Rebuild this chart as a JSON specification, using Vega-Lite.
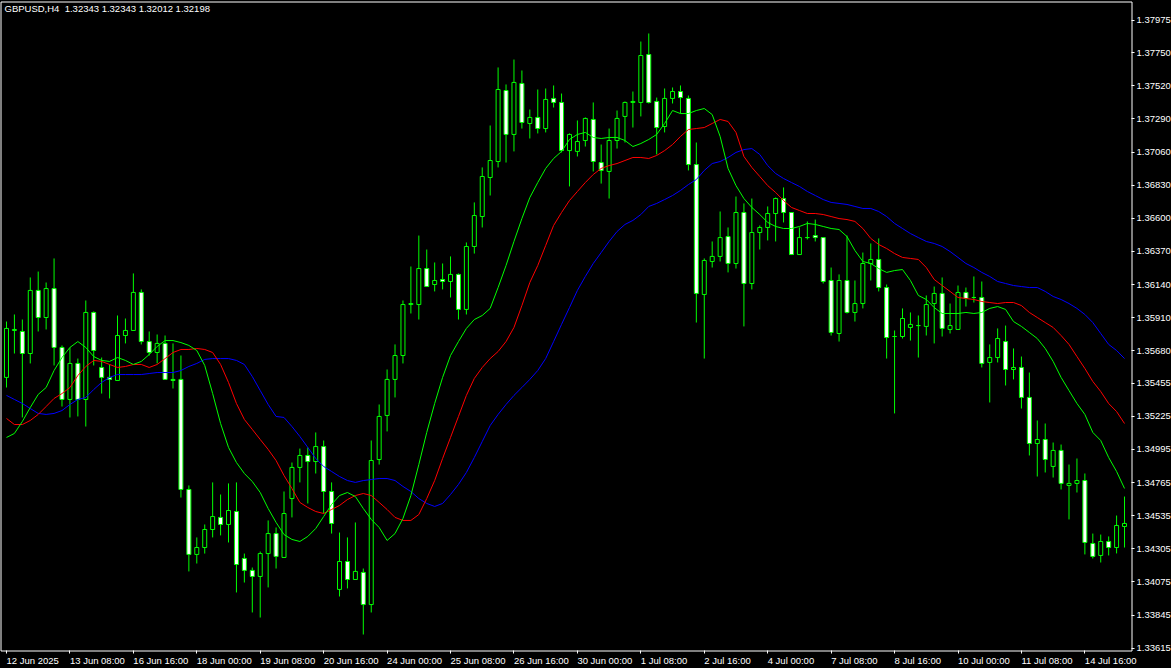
{
  "$schema": "https://vega.github.io/schema/vega-lite/v6.json",
  "width": 1131,
  "height": 649,
  "autosize": {"type": "none"},
  "padding": {"left": 0.5, "top": 1.5, "right": 39.5, "bottom": 17.5},
  "background": "#000000",
  "title": {
    "text": "GBPUSD,H4\u00a0 1.32343 1.32343 1.32012 1.32198",
    "anchor": "start",
    "frame": "group",
    "orient": "top",
    "offset": 0,
    "dx": 4,
    "dy": 20,
    "baseline": "alphabetic",
    "font": "Liberation Sans",
    "fontSize": 9.5,
    "fontWeight": "normal",
    "color": "#ffffff"
  },
  "config": {
    "view": {"stroke": "#ffffff", "strokeWidth": 1, "fill": "#000000"},
    "axis": {"translate": 0, "labelOverlap": false, "labelFlush": false, "labelBound": false, "grid": false, "domain": false, "title": null}
  },
  "data": {
    "values": [
      {"i":0,"o":1.35495,"h":1.35883,"l":1.35425,"c":1.35835,"g":1.35078,"r":1.35210,"b":1.35370},
      {"i":1,"o":1.35821,"h":1.35932,"l":1.35661,"c":1.35828,"g":1.35106,"r":1.35168,"b":1.35342},
      {"i":2,"o":1.35814,"h":1.35897,"l":1.35217,"c":1.35661,"g":1.35189,"r":1.35168,"b":1.35314},
      {"i":3,"o":1.35661,"h":1.36189,"l":1.35592,"c":1.36099,"g":1.35286,"r":1.35196,"b":1.35279},
      {"i":4,"o":1.36099,"h":1.36230,"l":1.35814,"c":1.35911,"g":1.35377,"r":1.35238,"b":1.35245},
      {"i":5,"o":1.35911,"h":1.36154,"l":1.35828,"c":1.36112,"g":1.35425,"r":1.35293,"b":1.35238},
      {"i":6,"o":1.36112,"h":1.36321,"l":1.35578,"c":1.35703,"g":1.35543,"r":1.35349,"b":1.35245},
      {"i":7,"o":1.35703,"h":1.35717,"l":1.35293,"c":1.35342,"g":1.35633,"r":1.35383,"b":1.35265},
      {"i":8,"o":1.35342,"h":1.35703,"l":1.35217,"c":1.35592,"g":1.35703,"r":1.35425,"b":1.35307},
      {"i":9,"o":1.35592,"h":1.35626,"l":1.35224,"c":1.35342,"g":1.35744,"r":1.35508,"b":1.35342},
      {"i":10,"o":1.35342,"h":1.36029,"l":1.35154,"c":1.35946,"g":1.35703,"r":1.35571,"b":1.35356},
      {"i":11,"o":1.35946,"h":1.35953,"l":1.35578,"c":1.35682,"g":1.35640,"r":1.35613,"b":1.35411},
      {"i":12,"o":1.35564,"h":1.35633,"l":1.35383,"c":1.35495,"g":1.35613,"r":1.35606,"b":1.35460},
      {"i":13,"o":1.35495,"h":1.35585,"l":1.35349,"c":1.35481,"g":1.35606,"r":1.35585,"b":1.35495},
      {"i":14,"o":1.35474,"h":1.35925,"l":1.35474,"c":1.35786,"g":1.35633,"r":1.35564,"b":1.35515},
      {"i":15,"o":1.35786,"h":1.35904,"l":1.35731,"c":1.35821,"g":1.35613,"r":1.35571,"b":1.35515},
      {"i":16,"o":1.35821,"h":1.36217,"l":1.35821,"c":1.36085,"g":1.35585,"r":1.35585,"b":1.35515},
      {"i":17,"o":1.36085,"h":1.36106,"l":1.35724,"c":1.35744,"g":1.35606,"r":1.35585,"b":1.35515},
      {"i":18,"o":1.35744,"h":1.35814,"l":1.35647,"c":1.35668,"g":1.35654,"r":1.35564,"b":1.35522},
      {"i":19,"o":1.35668,"h":1.35793,"l":1.35592,"c":1.35731,"g":1.35710,"r":1.35585,"b":1.35529},
      {"i":20,"o":1.35731,"h":1.35786,"l":1.35481,"c":1.35481,"g":1.35751,"r":1.35626,"b":1.35529},
      {"i":21,"o":1.35481,"h":1.35731,"l":1.35418,"c":1.35474,"g":1.35751,"r":1.35668,"b":1.35529},
      {"i":22,"o":1.35481,"h":1.35647,"l":1.34661,"c":1.34717,"g":1.35737,"r":1.35689,"b":1.35543},
      {"i":23,"o":1.34717,"h":1.34745,"l":1.34148,"c":1.34266,"g":1.35717,"r":1.35689,"b":1.35571},
      {"i":24,"o":1.34266,"h":1.34384,"l":1.34203,"c":1.34314,"g":1.35682,"r":1.35696,"b":1.35592},
      {"i":25,"o":1.34314,"h":1.34474,"l":1.34272,"c":1.34439,"g":1.35578,"r":1.35689,"b":1.35620},
      {"i":26,"o":1.34439,"h":1.34766,"l":1.34384,"c":1.34529,"g":1.35383,"r":1.35668,"b":1.35626},
      {"i":27,"o":1.34523,"h":1.34682,"l":1.34398,"c":1.34474,"g":1.35175,"r":1.35585,"b":1.35626},
      {"i":28,"o":1.34474,"h":1.34759,"l":1.34349,"c":1.34571,"g":1.35009,"r":1.35460,"b":1.35626},
      {"i":29,"o":1.34564,"h":1.34766,"l":1.34002,"c":1.34196,"g":1.34904,"r":1.35314,"b":1.35613},
      {"i":30,"o":1.34238,"h":1.34272,"l":1.34071,"c":1.34155,"g":1.34828,"r":1.35203,"b":1.35585},
      {"i":31,"o":1.34155,"h":1.34175,"l":1.33863,"c":1.34113,"g":1.34772,"r":1.35134,"b":1.35501},
      {"i":32,"o":1.34113,"h":1.34286,"l":1.33828,"c":1.34272,"g":1.34696,"r":1.35064,"b":1.35404},
      {"i":33,"o":1.34272,"h":1.34502,"l":1.34037,"c":1.34411,"g":1.34585,"r":1.34995,"b":1.35307},
      {"i":34,"o":1.34411,"h":1.34453,"l":1.34168,"c":1.34252,"g":1.34488,"r":1.34918,"b":1.35224},
      {"i":35,"o":1.34245,"h":1.34703,"l":1.34245,"c":1.34550,"g":1.34404,"r":1.34814,"b":1.35217},
      {"i":36,"o":1.34654,"h":1.34904,"l":1.34523,"c":1.34870,"g":1.34370,"r":1.34724,"b":1.35154},
      {"i":37,"o":1.34870,"h":1.35001,"l":1.34766,"c":1.34953,"g":1.34356,"r":1.34627,"b":1.35085},
      {"i":38,"o":1.34953,"h":1.35009,"l":1.34620,"c":1.34911,"g":1.34391,"r":1.34592,"b":1.35009},
      {"i":39,"o":1.34911,"h":1.35113,"l":1.34828,"c":1.35015,"g":1.34446,"r":1.34564,"b":1.34932},
      {"i":40,"o":1.35015,"h":1.35057,"l":1.34550,"c":1.34703,"g":1.34529,"r":1.34550,"b":1.34877},
      {"i":41,"o":1.34703,"h":1.34766,"l":1.34411,"c":1.34481,"g":1.34613,"r":1.34578,"b":1.34842},
      {"i":42,"o":1.34023,"h":1.34418,"l":1.33974,"c":1.34217,"g":1.34675,"r":1.34606,"b":1.34807},
      {"i":43,"o":1.34217,"h":1.34384,"l":1.34030,"c":1.34092,"g":1.34696,"r":1.34647,"b":1.34779},
      {"i":44,"o":1.34092,"h":1.34488,"l":1.34092,"c":1.34148,"g":1.34668,"r":1.34675,"b":1.34766},
      {"i":45,"o":1.34141,"h":1.34168,"l":1.33710,"c":1.33918,"g":1.34585,"r":1.34689,"b":1.34779},
      {"i":46,"o":1.33918,"h":1.35057,"l":1.33863,"c":1.34918,"g":1.34509,"r":1.34675,"b":1.34786},
      {"i":47,"o":1.34925,"h":1.35307,"l":1.34890,"c":1.35224,"g":1.34453,"r":1.34627,"b":1.34793},
      {"i":48,"o":1.35231,"h":1.35550,"l":1.35120,"c":1.35481,"g":1.34363,"r":1.34578,"b":1.34793},
      {"i":49,"o":1.35481,"h":1.35724,"l":1.35356,"c":1.35647,"g":1.34411,"r":1.34523,"b":1.34779},
      {"i":50,"o":1.35647,"h":1.36029,"l":1.35592,"c":1.36001,"g":1.34516,"r":1.34502,"b":1.34738},
      {"i":51,"o":1.36001,"h":1.36265,"l":1.35939,"c":1.36008,"g":1.34675,"r":1.34502,"b":1.34703},
      {"i":52,"o":1.36001,"h":1.36480,"l":1.35897,"c":1.36251,"g":1.34890,"r":1.34543,"b":1.34654},
      {"i":53,"o":1.36251,"h":1.36383,"l":1.36126,"c":1.36126,"g":1.35113,"r":1.34654,"b":1.34620},
      {"i":54,"o":1.36140,"h":1.36293,"l":1.36092,"c":1.36168,"g":1.35314,"r":1.34779,"b":1.34599},
      {"i":55,"o":1.36175,"h":1.36286,"l":1.36106,"c":1.36161,"g":1.35495,"r":1.34932,"b":1.34620},
      {"i":56,"o":1.36161,"h":1.36335,"l":1.36050,"c":1.36210,"g":1.35647,"r":1.35078,"b":1.34682},
      {"i":57,"o":1.36210,"h":1.36217,"l":1.35897,"c":1.35967,"g":1.35744,"r":1.35224,"b":1.34752},
      {"i":58,"o":1.35967,"h":1.36432,"l":1.35932,"c":1.36404,"g":1.35835,"r":1.35370,"b":1.34835},
      {"i":59,"o":1.36404,"h":1.36710,"l":1.36355,"c":1.36619,"g":1.35897,"r":1.35488,"b":1.34939},
      {"i":60,"o":1.36612,"h":1.36953,"l":1.36536,"c":1.36890,"g":1.35925,"r":1.35564,"b":1.35050},
      {"i":61,"o":1.36883,"h":1.37244,"l":1.36758,"c":1.37001,"g":1.35974,"r":1.35626,"b":1.35161},
      {"i":62,"o":1.36994,"h":1.37647,"l":1.36953,"c":1.37494,"g":1.36119,"r":1.35675,"b":1.35238},
      {"i":63,"o":1.37487,"h":1.37529,"l":1.36987,"c":1.37182,"g":1.36272,"r":1.35744,"b":1.35307},
      {"i":64,"o":1.37182,"h":1.37702,"l":1.37064,"c":1.37543,"g":1.36439,"r":1.35842,"b":1.35370},
      {"i":65,"o":1.37536,"h":1.37626,"l":1.37223,"c":1.37265,"g":1.36598,"r":1.35994,"b":1.35425},
      {"i":66,"o":1.37258,"h":1.37355,"l":1.37154,"c":1.37300,"g":1.36744,"r":1.36154,"b":1.35481},
      {"i":67,"o":1.37300,"h":1.37494,"l":1.37189,"c":1.37223,"g":1.36848,"r":1.36272,"b":1.35543},
      {"i":68,"o":1.37223,"h":1.37501,"l":1.37196,"c":1.37425,"g":1.36946,"r":1.36411,"b":1.35626},
      {"i":69,"o":1.37432,"h":1.37522,"l":1.37369,"c":1.37404,"g":1.37015,"r":1.36550,"b":1.35744},
      {"i":70,"o":1.37404,"h":1.37466,"l":1.37057,"c":1.37070,"g":1.37064,"r":1.36640,"b":1.35863},
      {"i":71,"o":1.37070,"h":1.37189,"l":1.36821,"c":1.37182,"g":1.37147,"r":1.36723,"b":1.35980},
      {"i":72,"o":1.37064,"h":1.37279,"l":1.37029,"c":1.37133,"g":1.37182,"r":1.36786,"b":1.36099},
      {"i":73,"o":1.37140,"h":1.37300,"l":1.37098,"c":1.37293,"g":1.37196,"r":1.36848,"b":1.36196},
      {"i":74,"o":1.37286,"h":1.37404,"l":1.36925,"c":1.36994,"g":1.37161,"r":1.36904,"b":1.36286},
      {"i":75,"o":1.36987,"h":1.37112,"l":1.36841,"c":1.36932,"g":1.37154,"r":1.36946,"b":1.36362},
      {"i":76,"o":1.36925,"h":1.37223,"l":1.36737,"c":1.37140,"g":1.37161,"r":1.36966,"b":1.36439},
      {"i":77,"o":1.37140,"h":1.37348,"l":1.37084,"c":1.37293,"g":1.37161,"r":1.36980,"b":1.36508},
      {"i":78,"o":1.37307,"h":1.37411,"l":1.37126,"c":1.37404,"g":1.37140,"r":1.37001,"b":1.36557},
      {"i":79,"o":1.37404,"h":1.37480,"l":1.37230,"c":1.37411,"g":1.37098,"r":1.37022,"b":1.36585},
      {"i":80,"o":1.37404,"h":1.37827,"l":1.37307,"c":1.37730,"g":1.37119,"r":1.37022,"b":1.36626},
      {"i":81,"o":1.37737,"h":1.37883,"l":1.37397,"c":1.37404,"g":1.37147,"r":1.37015,"b":1.36682},
      {"i":82,"o":1.37411,"h":1.37438,"l":1.37043,"c":1.37230,"g":1.37182,"r":1.37036,"b":1.36703},
      {"i":83,"o":1.37237,"h":1.37501,"l":1.37196,"c":1.37432,"g":1.37258,"r":1.37070,"b":1.36730},
      {"i":84,"o":1.37432,"h":1.37508,"l":1.37397,"c":1.37480,"g":1.37348,"r":1.37112,"b":1.36758},
      {"i":85,"o":1.37480,"h":1.37522,"l":1.37327,"c":1.37438,"g":1.37327,"r":1.37168,"b":1.36793},
      {"i":86,"o":1.37432,"h":1.37452,"l":1.36932,"c":1.36973,"g":1.37327,"r":1.37216,"b":1.36834},
      {"i":87,"o":1.36973,"h":1.37126,"l":1.35876,"c":1.36078,"g":1.37348,"r":1.37223,"b":1.36869},
      {"i":88,"o":1.36071,"h":1.36321,"l":1.35626,"c":1.36307,"g":1.37362,"r":1.37230,"b":1.36932},
      {"i":89,"o":1.36300,"h":1.36439,"l":1.36258,"c":1.36335,"g":1.37320,"r":1.37258,"b":1.36980},
      {"i":90,"o":1.36335,"h":1.36647,"l":1.36300,"c":1.36466,"g":1.37168,"r":1.37286,"b":1.36994},
      {"i":91,"o":1.36473,"h":1.36536,"l":1.36224,"c":1.36286,"g":1.36946,"r":1.37272,"b":1.37022},
      {"i":92,"o":1.36286,"h":1.36751,"l":1.36251,"c":1.36640,"g":1.36827,"r":1.37196,"b":1.37057},
      {"i":93,"o":1.36640,"h":1.36703,"l":1.35849,"c":1.36147,"g":1.36737,"r":1.37029,"b":1.37077},
      {"i":94,"o":1.36147,"h":1.36737,"l":1.36106,"c":1.36501,"g":1.36675,"r":1.36953,"b":1.37084},
      {"i":95,"o":1.36501,"h":1.36550,"l":1.36383,"c":1.36536,"g":1.36626,"r":1.36890,"b":1.37043},
      {"i":96,"o":1.36536,"h":1.36682,"l":1.36446,"c":1.36633,"g":1.36571,"r":1.36827,"b":1.36966},
      {"i":97,"o":1.36633,"h":1.36744,"l":1.36439,"c":1.36737,"g":1.36543,"r":1.36779,"b":1.36911},
      {"i":98,"o":1.36737,"h":1.36814,"l":1.36571,"c":1.36640,"g":1.36529,"r":1.36723,"b":1.36876},
      {"i":99,"o":1.36640,"h":1.36640,"l":1.36348,"c":1.36348,"g":1.36529,"r":1.36675,"b":1.36848},
      {"i":100,"o":1.36348,"h":1.36536,"l":1.36348,"c":1.36466,"g":1.36543,"r":1.36654,"b":1.36821},
      {"i":101,"o":1.36466,"h":1.36578,"l":1.36453,"c":1.36466,"g":1.36564,"r":1.36633,"b":1.36786},
      {"i":102,"o":1.36480,"h":1.36591,"l":1.36439,"c":1.36466,"g":1.36557,"r":1.36633,"b":1.36758},
      {"i":103,"o":1.36466,"h":1.36466,"l":1.36147,"c":1.36161,"g":1.36543,"r":1.36626,"b":1.36730},
      {"i":104,"o":1.36168,"h":1.36258,"l":1.35786,"c":1.35807,"g":1.36529,"r":1.36612,"b":1.36710},
      {"i":105,"o":1.35800,"h":1.36210,"l":1.35744,"c":1.36168,"g":1.36522,"r":1.36598,"b":1.36703},
      {"i":106,"o":1.36168,"h":1.36480,"l":1.35939,"c":1.35946,"g":1.36473,"r":1.36591,"b":1.36696},
      {"i":107,"o":1.35946,"h":1.36168,"l":1.35883,"c":1.36008,"g":1.36376,"r":1.36578,"b":1.36682},
      {"i":108,"o":1.36008,"h":1.36362,"l":1.35974,"c":1.36286,"g":1.36300,"r":1.36529,"b":1.36668},
      {"i":109,"o":1.36286,"h":1.36425,"l":1.36168,"c":1.36314,"g":1.36286,"r":1.36460,"b":1.36668},
      {"i":110,"o":1.36314,"h":1.36460,"l":1.36092,"c":1.36119,"g":1.36251,"r":1.36418,"b":1.36647},
      {"i":111,"o":1.36119,"h":1.36140,"l":1.35626,"c":1.35772,"g":1.36224,"r":1.36390,"b":1.36612},
      {"i":112,"o":1.35779,"h":1.35821,"l":1.35245,"c":1.35779,"g":1.36237,"r":1.36355,"b":1.36564},
      {"i":113,"o":1.35779,"h":1.35974,"l":1.35765,"c":1.35904,"g":1.36244,"r":1.36328,"b":1.36529},
      {"i":114,"o":1.35842,"h":1.35946,"l":1.35751,"c":1.35863,"g":1.36168,"r":1.36321,"b":1.36494},
      {"i":115,"o":1.35855,"h":1.35925,"l":1.35633,"c":1.35855,"g":1.36064,"r":1.36314,"b":1.36466},
      {"i":116,"o":1.35849,"h":1.36064,"l":1.35786,"c":1.36001,"g":1.36036,"r":1.36258,"b":1.36439},
      {"i":117,"o":1.36008,"h":1.36126,"l":1.35731,"c":1.36078,"g":1.35980,"r":1.36175,"b":1.36425},
      {"i":118,"o":1.36078,"h":1.36189,"l":1.35779,"c":1.35835,"g":1.35939,"r":1.36133,"b":1.36404},
      {"i":119,"o":1.35828,"h":1.36008,"l":1.35800,"c":1.35855,"g":1.35939,"r":1.36092,"b":1.36369},
      {"i":120,"o":1.35828,"h":1.36133,"l":1.35828,"c":1.36085,"g":1.35939,"r":1.36050,"b":1.36328},
      {"i":121,"o":1.36085,"h":1.36119,"l":1.35987,"c":1.36043,"g":1.35946,"r":1.36043,"b":1.36286},
      {"i":122,"o":1.36050,"h":1.36196,"l":1.36015,"c":1.36050,"g":1.35939,"r":1.36036,"b":1.36258},
      {"i":123,"o":1.36050,"h":1.36161,"l":1.35564,"c":1.35592,"g":1.35946,"r":1.36022,"b":1.36224},
      {"i":124,"o":1.35599,"h":1.35724,"l":1.35321,"c":1.35633,"g":1.35974,"r":1.36015,"b":1.36196},
      {"i":125,"o":1.35633,"h":1.35835,"l":1.35599,"c":1.35765,"g":1.35987,"r":1.36008,"b":1.36161},
      {"i":126,"o":1.35744,"h":1.35855,"l":1.35439,"c":1.35550,"g":1.35967,"r":1.36015,"b":1.36147},
      {"i":127,"o":1.35550,"h":1.35696,"l":1.35481,"c":1.35564,"g":1.35883,"r":1.36015,"b":1.36133},
      {"i":128,"o":1.35564,"h":1.35640,"l":1.35279,"c":1.35356,"g":1.35849,"r":1.35994,"b":1.36126},
      {"i":129,"o":1.35356,"h":1.35529,"l":1.34953,"c":1.35036,"g":1.35807,"r":1.35946,"b":1.36119},
      {"i":130,"o":1.35036,"h":1.35196,"l":1.34807,"c":1.35064,"g":1.35765,"r":1.35911,"b":1.36119},
      {"i":131,"o":1.35064,"h":1.35175,"l":1.34835,"c":1.34925,"g":1.35696,"r":1.35876,"b":1.36092},
      {"i":132,"o":1.34877,"h":1.35043,"l":1.34800,"c":1.34988,"g":1.35606,"r":1.35842,"b":1.36057},
      {"i":133,"o":1.34988,"h":1.35029,"l":1.34717,"c":1.34759,"g":1.35495,"r":1.35786,"b":1.36036},
      {"i":134,"o":1.34745,"h":1.34890,"l":1.34509,"c":1.34759,"g":1.35404,"r":1.35724,"b":1.36008},
      {"i":135,"o":1.34759,"h":1.34932,"l":1.34696,"c":1.34779,"g":1.35314,"r":1.35640,"b":1.35974},
      {"i":136,"o":1.34779,"h":1.34828,"l":1.34266,"c":1.34349,"g":1.35238,"r":1.35557,"b":1.35932},
      {"i":137,"o":1.34342,"h":1.34411,"l":1.34238,"c":1.34252,"g":1.35113,"r":1.35467,"b":1.35876},
      {"i":138,"o":1.34259,"h":1.34404,"l":1.34210,"c":1.34356,"g":1.35057,"r":1.35397,"b":1.35800},
      {"i":139,"o":1.34356,"h":1.34391,"l":1.34259,"c":1.34314,"g":1.34939,"r":1.35314,"b":1.35724},
      {"i":140,"o":1.34314,"h":1.34536,"l":1.34273,"c":1.34467,"g":1.34842,"r":1.35258,"b":1.35682},
      {"i":141,"o":1.34460,"h":1.34668,"l":1.34314,"c":1.34481,"g":1.34724,"r":1.35175,"b":1.35626}
    ]
  },
  "encoding": {
    "x": {
      "field": "i",
      "type": "quantitative",
      "scale": {"domain": [-0.125, 141.25], "nice": false, "zero": false},
      "axis": {
        "orient": "bottom",
        "title": null,
        "values": [0, 8, 16, 24, 32, 40, 48, 56, 64, 72, 80, 88, 96, 104, 112, 120, 128, 136],
        "labelExpr": "['12 Jun 2025','13 Jun 08:00','16 Jun 16:00','18 Jun 00:00','19 Jun 08:00','20 Jun 16:00','24 Jun 00:00','25 Jun 08:00','26 Jun 16:00','30 Jun 00:00','1 Jul 08:00','2 Jul 16:00','4 Jul 00:00','7 Jul 08:00','8 Jul 16:00','10 Jul 00:00','11 Jul 08:00','14 Jul 16:00'][round(datum.value / 8)]",
        "grid": false,
        "domain": false,
        "ticks": true,
        "tickSize": 3,
        "tickColor": "#ffffff",
        "tickWidth": 1,
        "labelColor": "#ffffff",
        "labelFont": "Liberation Sans",
        "labelFontSize": 9.5,
        "labelAlign": "left",
        "labelBaseline": "top",
        "labelPadding": 2,
        "labelOverlap": false,
        "labelFlush": false,
        "labelBound": false
      }
    },
    "y": {
      "field": "l",
      "type": "quantitative",
      "scale": {"domain": [1.33599, 1.38105], "nice": false, "zero": false},
      "axis": {
        "orient": "right",
        "title": null,
        "values": [1.37975, 1.3775, 1.3752, 1.3729, 1.3706, 1.3683, 1.366, 1.3637, 1.3614, 1.3591, 1.3568, 1.35455, 1.35225, 1.34995, 1.34765, 1.34535, 1.34305, 1.34075, 1.33845, 1.33615],
        "format": ".5f",
        "grid": false,
        "domain": false,
        "tickSize": 3,
        "tickColor": "#ffffff",
        "tickWidth": 1,
        "labelColor": "#ffffff",
        "labelFont": "Liberation Sans",
        "labelFontSize": 9.5,
        "labelAlign": "left",
        "labelBaseline": "middle",
        "labelPadding": 2,
        "labelOverlap": false,
        "labelFlush": false,
        "labelBound": false
      }
    }
  },
  "layer": [
    {
      "mark": {"type": "rule", "color": "#00ff00", "strokeWidth": 1, "clip": true},
      "encoding": {
        "y2": {"field": "h"}
      }
    },
    {
      "mark": {"type": "bar", "width": 4, "stroke": "#00ff00", "strokeWidth": 1, "clip": true},
      "encoding": {
        "y": {"field": "o", "type": "quantitative"},
        "y2": {"field": "c"},
        "fill": {
          "condition": {"test": "datum.c > datum.o", "value": "#000000"},
          "value": "#ffffff"
        }
      }
    },
    {
      "mark": {"type": "line", "color": "#0000ff", "strokeWidth": 1, "clip": true},
      "encoding": {"y": {"field": "b", "type": "quantitative"}}
    },
    {
      "mark": {"type": "line", "color": "#ff0000", "strokeWidth": 1, "clip": true},
      "encoding": {"y": {"field": "r", "type": "quantitative"}}
    },
    {
      "mark": {"type": "line", "color": "#00ff00", "strokeWidth": 1, "clip": true},
      "encoding": {"y": {"field": "g", "type": "quantitative"}}
    }
  ]
}
